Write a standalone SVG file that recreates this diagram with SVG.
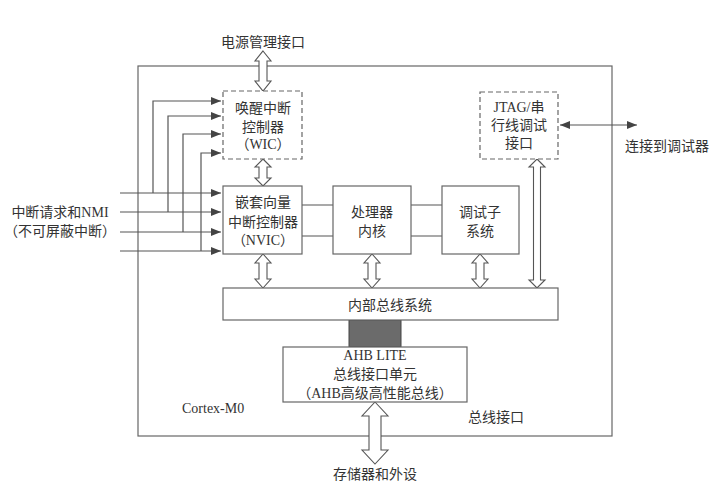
<svg xmlns="http://www.w3.org/2000/svg" width="727" height="489" viewBox="0 0 727 489">
<defs>
<style>
.box{fill:#fff;stroke:#666;stroke-width:1.2}
.dash{fill:#fff;stroke:#666;stroke-width:1.2;stroke-dasharray:5,3}
.ln{fill:none;stroke:#555;stroke-width:1.2}
.dbl{fill:#fff;stroke:#555;stroke-width:1.1}
text{font-family:"Liberation Serif","Noto Sans CJK SC",serif;font-size:14px;fill:#333;text-anchor:middle}
</style>
<marker id="ah" viewBox="0 0 10 8" refX="10" refY="4" markerWidth="10" markerHeight="8" markerUnits="userSpaceOnUse" orient="auto-start-reverse">
<path d="M0,0 L10,4 L0,8 Z" fill="#444"/>
</marker>
</defs>
<rect width="727" height="489" fill="#fff"/>
<g id="cortex">
<rect class="box" x="138" y="66" width="474" height="370"/>
<text x="182" y="413" style="text-anchor:start">Cortex-M0</text>
<text x="496" y="422">总线接口</text>
</g>
<g id="connectors">
<path class="ln" d="M120,193 H221" marker-end="url(#ah)"/>
<path class="ln" d="M120,212 H221" marker-end="url(#ah)"/>
<path class="ln" d="M120,232 H221" marker-end="url(#ah)"/>
<path class="ln" d="M120,251 H221" marker-end="url(#ah)"/>
<path class="ln" d="M153,193 V101 H221" marker-end="url(#ah)"/>
<path class="ln" d="M168,212 V116 H221" marker-end="url(#ah)"/>
<path class="ln" d="M183,232 V134 H221" marker-end="url(#ah)"/>
<path class="ln" d="M201,251 V153 H221" marker-end="url(#ah)"/>
<path class="ln" d="M302,205 H333 M302,236 H333 M411,205 H442 M411,236 H442"/>
<path class="ln" d="M560,125 H637" marker-start="url(#ah)" marker-end="url(#ah)"/>
<polygon class="dbl" points="263,51 271,61 267,61 267,81 271,81 263,91 255,81 259,81 259,61 255,61"/>
<polygon class="dbl" points="263,159 271,167 267,167 267,178 271,178 263,186 255,178 259,178 259,167 255,167"/>
<polygon class="dbl" points="263,254 271,263 267,263 267,279 271,279 263,288 255,279 259,279 259,263 255,263"/>
<polygon class="dbl" points="372,254 380,263 376,263 376,279 380,279 372,288 364,279 368,279 368,263 364,263"/>
<polygon class="dbl" points="480,254 488,263 484,263 484,279 488,279 480,288 472,279 476,279 476,263 472,263"/>
<polygon class="dbl" points="537,159 545,167 540.5,167 540.5,280 545,280 537,288 529,280 533.5,280 533.5,167 529,167"/>
<polygon class="dbl" points="375,402 388,416 381,416 381,450 388,450 375,464 362,450 369,450 369,416 362,416"/>
<rect x="349" y="320" width="52" height="27" fill="#6b6b6b" stroke="#444" stroke-width="1"/>
</g>
<g id="power">
<text x="263" y="47">电源管理接口</text>
</g>
<g id="wic">
<rect class="dash" x="223" y="91" width="79" height="68"/>
<text x="263" y="113">唤醒中断</text>
<text x="263" y="132">控制器</text>
<text x="263" y="149">（WIC）</text>
</g>
<g id="jtag">
<rect class="dash" x="480" y="92" width="78" height="67"/>
<text x="519" y="112">JTAG/串</text>
<text x="519" y="130">行线调试</text>
<text x="519" y="148">接口</text>
</g>
<g id="debugger">
<text x="667" y="151">连接到调试器</text>
</g>
<g id="irq">
<text x="60" y="217">中断请求和NMI</text>
<text x="60" y="236">（不可屏蔽中断）</text>
</g>
<g id="nvic">
<rect class="box" x="223" y="186" width="79" height="68"/>
<text x="263" y="207">嵌套向量</text>
<text x="263" y="227">中断控制器</text>
<text x="263" y="245">（NVIC）</text>
</g>
<g id="core">
<rect class="box" x="333" y="186" width="78" height="68"/>
<text x="372" y="217">处理器</text>
<text x="372" y="236">内核</text>
</g>
<g id="debug">
<rect class="box" x="442" y="186" width="77" height="68"/>
<text x="480" y="217">调试子</text>
<text x="480" y="236">系统</text>
</g>
<g id="bus">
<rect class="box" x="223" y="288" width="335" height="32"/>
<text x="390" y="310">内部总线系统</text>
</g>
<g id="ahb">
<rect class="box" x="283" y="347" width="184" height="55"/>
<text x="375" y="360">AHB LITE</text>
<text x="375" y="379">总线接口单元</text>
<text x="375" y="398">（AHB高级高性能总线）</text>
</g>
<g id="mem">
<text x="375" y="479">存储器和外设</text>
</g>
</svg>
